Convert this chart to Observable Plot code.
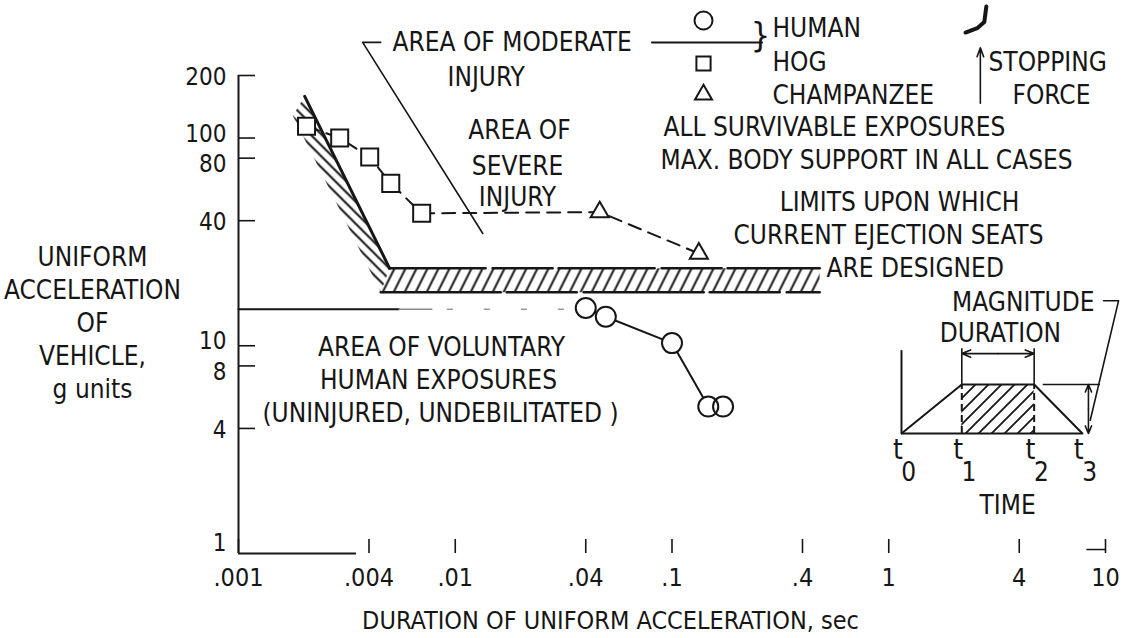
<!DOCTYPE html>
<html>
<head>
<meta charset="utf-8">
<script src="https://cdn.jsdelivr.net/npm/d3@7"></script>
<script src="https://cdn.jsdelivr.net/npm/@observablehq/plot@0.6"></script>
<style>
html, body { margin: 0; padding: 0; background: #fff; }
#wrap { position: relative; width: 1124px; height: 638px; overflow: hidden; background: #fff; }
#inset { position: absolute; left: 880px; top: 285px; }
</style>
</head>
<body>
<div id="wrap"><div id="main"></div><div id="inset"></div></div>
<script>
const FONT = '"Liberation Sans Narrow", "DejaVu Sans Condensed", "Roboto", sans-serif';
const INK = "#161616";
const ML = 238, MT = 75;

// ---- axes ----
const xTicks = [0.001, 0.004, 0.01, 0.04, 0.1, 0.4, 1, 4, 10];
const xTickLabels = [".001", ".004", ".01", ".04", ".1", ".4", "1", "4", "10"];
const yTicks = [4, 8, 10, 40, 80, 100, 200];
const yTickLabels = ["4", "8", "10", "40", "80", "100", "200"];
const yBottomTick = [1];
const yBottomLabel = ["1"];
// label groups (lettered a little above / below their ticks in the original)
const yLabelsPlain = [4, 40, 200];
const yLabelsRaised = [10, 100];
const yLabelsLowered = [8, 80];

// ---- data series (duration s, acceleration g) ----
const humanDuration = [0.04, 0.0495, 0.1, 0.147, 0.172];
const humanAccel = [15.2, 13.8, 10.3, 5.1, 5.1];
const hogDuration = [0.00206, 0.00293, 0.00403, 0.00504, 0.0070];
const hogAccel = [114, 100, 81, 60.5, 43.4];
const chimpDuration = [0.0464, 0.133];
const chimpAccel = [44, 27.8];

// boundary of voluntary human exposures (about 15 g)
const voluntaryDuration = [0.001, 0.0055];
const voluntaryFadeDuration = [0.0055, 0.0078];
const voluntaryDashDuration = [0.0092, 0.037];
const voluntaryAccel = 15;

// area of moderate injury leader line
const moderateDuration = [0.00453, 0.00374, 0.0134];
const moderateAccel = [288.6, 288.6, 34.7];

// ejection-seat design limit band
const seatDiagDuration = [0.00202, 0.00498, 0.00453, 0.00178];
const seatDiagAccel = [158.6, 23.6, 18.1, 128.5];
const seatFlatDuration = [0.00498, 0.48, 0.48, 0.00453];
const seatFlatAccel = [23.6, 23.6, 18.1, 18.1];

// legend line and stopping-force symbols
const legendLineDuration = [0.0808, 0.2604];
const legendLineAccel = 288.6;
const seatGlyphDuration = [2.82, 2.76, 2.56, 2.26];
const seatGlyphAccel = [430, 362, 338, 322];
const forceArrow = {d: 2.646, a1: 147, a2: 272};

// inset pulse
const insetTime = [0, 1, 2.2, 3];
const insetMagnitude = [0, 1, 1, 0];
const insetLabels = ["0", "1", "2", "3"];

const zip = (xs, ys) => xs.map((d, i) => ({d, a: Array.isArray(ys) ? ys[i] : ys}));
const human = zip(humanDuration, humanAccel);
const hog = zip(hogDuration, hogAccel);
const chimp = zip(chimpDuration, chimpAccel);
const animal = hog.concat(chimp);
const seatDiag = zip(seatDiagDuration, seatDiagAccel);
const seatFlat = zip(seatFlatDuration, seatFlatAccel);

const xLab = new Map(xTicks.map((t, i) => [t, xTickLabels[i]]));
const yLab = new Map(yTicks.map((t, i) => [t, yTickLabels[i]]));

function T(s, px, py, o = {}) {
  return Plot.text([s], {
    text: d => d, frameAnchor: "top-left", dx: px - ML, dy: py - MT,
    textAnchor: "start", lineAnchor: "middle", fontSize: 26, fill: INK, ...o
  });
}
function G(px, py, o = {}) {
  return Plot.dot([0], {frameAnchor: "top-left", dx: px - ML, dy: py - MT,
    fill: "white", stroke: INK, strokeWidth: 2, ...o});
}
const yLabelMark = (ticks, dy) => Plot.text(ticks, {y: d => d, text: d => yLab.get(d), frameAnchor: "left",
  dx: -12, dy, textAnchor: "end", lineAnchor: "middle", fontSize: 24, fill: INK});

const xy = {x: "d", y: "a"};

const main = Plot.plot({
  width: 1124, height: 638,
  marginLeft: ML, marginRight: 19, marginTop: MT, marginBottom: 85,
  x: {type: "log", domain: [0.001, 10]},
  y: {type: "log", domain: [1, 200]},
  style: {fontFamily: FONT, color: INK, background: "white", overflow: "visible"},
  marks: [
    // hatched band
    Plot.line(seatDiag, {...xy, fill: "url(#hatchD)", stroke: "none"}),
    Plot.line(seatFlat, {...xy, fill: "url(#hatchH)", stroke: "none"}),
    Plot.line([seatDiag[0], seatDiag[1]], {...xy, stroke: INK, strokeWidth: 3}),
    Plot.line([seatFlat[0], seatFlat[1]], {...xy, stroke: INK, strokeWidth: 2.6, strokeDasharray: "96,7,60,6"}),
    Plot.line([seatFlat[3], seatFlat[2]], {...xy, stroke: INK, strokeWidth: 2.6, strokeDasharray: "120,6,70,7"}),

    // frame
    Plot.ruleX([0.001], {stroke: INK, strokeWidth: 2}),
    Plot.ruleY([1], {x1: 0.001, x2: 0.0035, stroke: INK, strokeWidth: 2}),
    Plot.ruleY([1.045], {x1: 8.2, x2: 10, stroke: INK, strokeWidth: 1.5}),
    Plot.axisX(xTicks, {tickSize: -14, tickFormat: () => "", label: null, strokeWidth: 1.6}),
    Plot.axisY(yTicks, {tickSize: -17, tickFormat: () => "", label: null, strokeWidth: 1.6}),
    Plot.text(xTicks, {x: d => d, text: d => xLab.get(d), frameAnchor: "bottom", dy: 24,
      lineAnchor: "middle", fontSize: 25, fill: INK}),
    yLabelMark(yLabelsPlain, 2),
    yLabelMark(yLabelsRaised, -4),
    yLabelMark(yLabelsLowered, 6),
    Plot.text(yBottomTick, {y: d => d, text: (d, i) => yBottomLabel[i], frameAnchor: "left", dx: -12, dy: -10,
      textAnchor: "end", lineAnchor: "middle", fontSize: 24, fill: INK}),

    // voluntary limit
    Plot.line(zip(voluntaryDuration, voluntaryAccel), {...xy, stroke: INK, strokeWidth: 2}),
    Plot.line(zip(voluntaryFadeDuration, voluntaryAccel), {...xy, stroke: "#8a8a8a", strokeWidth: 1.5}),
    Plot.line(zip(voluntaryDashDuration, voluntaryAccel), {...xy, stroke: "#9a9a9a", strokeWidth: 1.5, strokeDasharray: "5,32"}),

    // moderate injury leader
    Plot.line(zip(moderateDuration, moderateAccel), {...xy, stroke: INK, strokeWidth: 1.6}),

    // series lines
    Plot.line(animal, {...xy, stroke: INK, strokeWidth: 2, strokeDasharray: "13,8"}),
    Plot.line(human, {...xy, stroke: INK, strokeWidth: 2}),
    Plot.dot(hog, {...xy, symbol: "square", r: 9.6, fill: "white", stroke: INK, strokeWidth: 2}),
    Plot.dot(chimp, {...xy, symbol: "triangle", r: 6.7, fill: "white", stroke: INK, strokeWidth: 2}),
    Plot.dot(human, {...xy, symbol: "circle", r: 10, fill: "white", stroke: "none"}),
    Plot.dot(human, {...xy, symbol: "circle", r: 10, fill: "none", stroke: INK, strokeWidth: 2}),

    // legend
    Plot.line(zip(legendLineDuration, legendLineAccel), {...xy, stroke: INK, strokeWidth: 2}),
    G(703, 20, {symbol: "circle", r: 9}),
    G(703, 63, {symbol: "square", r: 8}),
    G(703, 94, {symbol: "triangle", r: 6.3}),
    T("}", 760, 36, {fontSize: 34, textAnchor: "middle"}),
    T("HUMAN", 772, 28),
    T("HOG", 772, 62),
    T("CHAMPANZEE", 772, 95),

    // stopping force
    Plot.line(zip(seatGlyphDuration, seatGlyphAccel), {...xy, stroke: INK, strokeWidth: 4, strokeLinejoin: "round"}),
    Plot.arrow([forceArrow], {x1: "d", x2: "d", y1: "a1", y2: "a2", stroke: INK, strokeWidth: 1.6, headLength: 9, headAngle: 40}),
    T("STOPPING", 988, 62),
    T("FORCE", 1012, 95),

    // annotations
    T("AREA OF MODERATE", 392, 42),
    T("INJURY", 447, 77),
    T("AREA OF", 519, 130, {textAnchor: "middle"}),
    T("SEVERE", 517, 166, {textAnchor: "middle"}),
    T("INJURY", 517, 197, {textAnchor: "middle"}),
    T("ALL SURVIVABLE EXPOSURES", 663, 127),
    T("MAX. BODY SUPPORT IN ALL CASES", 660, 160),
    T("LIMITS UPON WHICH", 899, 202, {textAnchor: "middle"}),
    T("CURRENT EJECTION SEATS", 888, 235, {textAnchor: "middle"}),
    T("ARE DESIGNED", 826, 268),
    T("AREA OF VOLUNTARY", 441, 347, {textAnchor: "middle"}),
    T("HUMAN EXPOSURES", 438, 380, {textAnchor: "middle"}),
    T("(UNINJURED, UNDEBILITATED )", 440, 413, {textAnchor: "middle"}),

    // axis titles
    T("DURATION OF UNIFORM ACCELERATION, sec", 610, 620, {textAnchor: "middle", fontSize: 25}),
    T("UNIFORM\nACCELERATION\nOF\nVEHICLE,\ng units", 92, 321, {textAnchor: "middle", lineHeight: 1.27})
  ]
});
document.getElementById("main").appendChild(main);

const defs = d3.select(main).insert("defs", ":first-child");
defs.append("pattern").attr("id", "hatchH").attr("patternUnits", "userSpaceOnUse")
  .attr("width", 11).attr("height", 22)
  .append("path").attr("d", "M-5.5,11L5.5,-11M0,22L11,0M5.5,33L16.5,11")
  .attr("stroke", INK).attr("stroke-width", 2);
defs.append("pattern").attr("id", "hatchD").attr("patternUnits", "userSpaceOnUse")
  .attr("width", 11).attr("height", 11)
  .append("path").attr("d", "M0,0L11,11M-1,10L1,12M10,-1L12,1")
  .attr("stroke", INK).attr("stroke-width", 2);

// ---- inset: definition of the pulse ----
const pulse = insetTime.map((t, i) => ({t, m: insetMagnitude[i]}));
const plateau = pulse.slice(1, 3);
const tLabels = insetTime.map((t, i) => ({t, s: insetLabels[i]}));
const ixy = {x: "t", y: "m"};
const IT = (s, t, m, o = {}) => Plot.text([{t, m, s}], {...ixy, text: "s", fontSize: 26, fill: INK, lineAnchor: "middle", ...o});

const inset = Plot.plot({
  width: 244, height: 235, margin: 0,
  x: {domain: [-0.348, 3.698], axis: null},
  y: {domain: [-1.776, 3.02], axis: null},
  style: {fontFamily: FONT, color: INK, background: "transparent", overflow: "visible"},
  marks: [
    Plot.areaY(plateau, {...ixy, fill: "url(#hatchI)"}),
    Plot.ruleX([insetTime[0]], {y1: 0, y2: 1.69, stroke: INK, strokeWidth: 2}),
    Plot.ruleY([0], {x1: insetTime[0], x2: insetTime[3], stroke: INK, strokeWidth: 2}),
    Plot.line(pulse, {...ixy, stroke: INK, strokeWidth: 2}),
    Plot.ruleX([insetTime[1], insetTime[2]], {y1: 0, y2: 1, stroke: INK, strokeWidth: 2, strokeDasharray: "7,4"}),
    Plot.ruleX([insetTime[1], insetTime[2]], {y1: 1, y2: 1.73, stroke: INK, strokeWidth: 1.6}),
    Plot.arrow([{a: 1.6, b: insetTime[1]}, {a: 1.6, b: insetTime[2]}], {x1: "a", x2: "b", y1: () => 1.63, y2: () => 1.63, stroke: INK, strokeWidth: 1.6, headLength: 9, headAngle: 45}),
    Plot.ruleY([1], {x1: 2.35, x2: 3.30, stroke: INK, strokeWidth: 1.6}),
    Plot.arrow([{a: 0.5, b: 1}, {a: 0.5, b: 0}], {x1: () => 3.1, x2: () => 3.1, y1: "a", y2: "b", stroke: INK, strokeWidth: 1.6, headLength: 9, headAngle: 45}),
    Plot.line([{t: 3.35, m: 2.71}, {t: 3.60, m: 2.71}, {t: 3.13, m: 0.27}], {...ixy, stroke: INK, strokeWidth: 1.6}),
    IT("MAGNITUDE", 2.02, 2.67),
    IT("DURATION", 1.64, 2.04),
    Plot.text(tLabels, {x: d => d.t - 0.06, y: () => -0.33, text: () => "t", fontSize: 28, fill: INK, lineAnchor: "middle"}),
    Plot.text(tLabels, {x: d => d.t + 0.12, y: () => -0.8, text: "s", fontSize: 26, fill: INK, lineAnchor: "middle"}),
    IT("TIME", 1.76, -1.47)
  ]
});
document.getElementById("inset").appendChild(inset);
d3.select(inset).insert("defs", ":first-child")
  .append("pattern").attr("id", "hatchI").attr("patternUnits", "userSpaceOnUse")
  .attr("width", 13).attr("height", 13)
  .append("path").attr("d", "M0,13L13,0M-3,3L3,-3M10,16L16,10")
  .attr("stroke", INK).attr("stroke-width", 1.8);
</script>
</body>
</html>
